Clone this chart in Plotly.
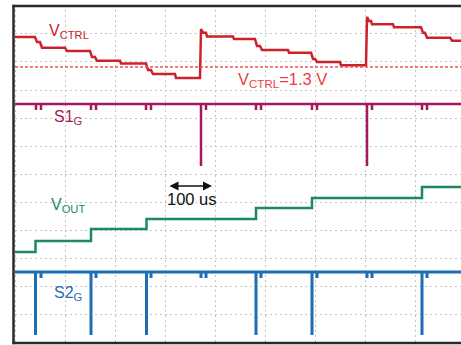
import plotly.graph_objects as go

# Time axis in screen divisions, amplitude in screen divisions
vctrl_t = [0, 0.40, 0.44, 0.50, 0.54, 1.00, 1.04, 1.50, 1.54, 1.60, 1.64, 2.10, 2.12, 2.62, 2.66, 2.72,
           2.76, 3.20, 3.22, 3.70, 3.72, 3.76, 3.82, 3.84, 4.36, 4.38, 4.80, 4.84, 4.90, 4.94, 5.46,
           5.48, 5.92, 5.96, 6.00, 6.04, 6.50, 6.52, 7.02, 7.04, 7.08, 7.12, 7.14, 7.56, 7.58, 8.12,
           8.16, 8.20, 8.24, 8.70, 8.74, 8.92]
vctrl_v = [10.89, 10.89, 10.71, 10.71, 10.51, 10.51, 10.39, 10.39, 10.18, 10.18, 10.04, 10.04, 9.95,
           9.95, 9.71, 9.71, 9.57, 9.57, 9.43, 9.43, 11.18, 11.04, 11.04, 10.91, 10.91, 10.82, 10.82,
           10.57, 10.57, 10.43, 10.43, 10.33, 10.33, 10.11, 10.11, 10.00, 10.00, 9.88, 9.88, 11.61,
           11.46, 11.46, 11.35, 11.35, 11.24, 11.24, 11.04, 11.04, 10.87, 10.87, 10.76, 10.76]
vctrl_ref = 9.82

s1_base = 8.5
s1_t = [0.42, 0.52, 1.52, 1.62, 2.62, 2.72, 3.72, 3.82, 4.82, 4.92, 5.94, 6.04, 7.04, 7.14, 8.14, 8.24]
s1_low = [8.29, 8.29, 8.29, 8.29, 8.29, 8.29, 6.29, 8.29, 8.29, 8.29, 8.29, 8.29, 6.29, 8.29, 8.29, 8.29]

vout_t = [0, 0.41, 1.52, 2.63, 4.82, 5.94, 8.14, 8.92]
vout_v = [3.21, 3.61, 4.04, 4.39, 4.79, 5.14, 5.54, 5.54]

s2_base = 2.5
s2_t = [0.41, 0.52, 1.52, 1.62, 2.63, 2.72, 3.72, 3.82, 4.82, 4.92, 5.94, 6.04, 7.04, 7.14, 8.14, 8.24]
s2_low = [0.25, 2.29, 0.25, 2.29, 0.25, 2.29, 2.29, 2.29, 0.25, 2.29, 0.25, 2.29, 2.29, 2.29, 0.25, 2.29]

x_end = 8.92
x_min = -0.30
y_min, y_max = -0.107, 12.214
frame_left, frame_top, frame_bottom = -0.03, 12.0, -0.036


def pulse_train(times, lows, base):
    xs, ys = [0], [base]
    for t, lo in zip(times, lows):
        xs += [t, t, t]
        ys += [base, lo, base]
    xs.append(x_end)
    ys.append(base)
    return xs, ys


RED = "#cc2229"
MAG = "#a3195b"
GRN = "#1c8a5c"
BLU = "#1f6db3"
FRAME = "#2a2a2a"

fig = go.Figure()
# white masks outside the frame (hide gridlines there)
for (xa, xb, ya, yb) in [(x_min, frame_left, y_min, y_max), (x_min, x_end, frame_top, y_max),
                         (x_min, x_end, y_min, frame_bottom)]:
    fig.add_shape(type="rect", x0=xa, x1=xb, y0=ya, y1=yb, xref="x", yref="y",
                  fillcolor="white", line=dict(width=0), layer="between")

fig.add_shape(type="line", x0=0, x1=x_end, y0=vctrl_ref, y1=vctrl_ref, xref="x", yref="y",
              line=dict(color="#f05050", width=1.5, dash="3px,2px"))
fig.add_trace(go.Scatter(x=vctrl_t, y=vctrl_v, mode="lines", line=dict(color=RED, width=2.5)))
x1, y1 = pulse_train(s1_t, s1_low, s1_base)
fig.add_trace(go.Scatter(x=x1, y=y1, mode="lines", line=dict(color=MAG, width=2.5)))
fig.add_trace(go.Scatter(x=vout_t, y=vout_v, mode="lines", line=dict(color=GRN, width=2.5, shape="hv")))
x2, y2 = pulse_train(s2_t, s2_low, s2_base)
fig.add_trace(go.Scatter(x=x2, y=y2, mode="lines", line=dict(color=BLU, width=3)))

# frame (left, top, bottom) - right side runs off the page
fig.add_shape(type="line", xref="x", yref="y", x0=frame_left, x1=frame_left,
              y0=frame_bottom - 0.04, y1=frame_top + 0.04, line=dict(color=FRAME, width=2.5), layer="above")
fig.add_shape(type="line", xref="x", yref="y", x0=frame_left - 0.02, x1=x_end, y0=frame_top, y1=frame_top,
              line=dict(color=FRAME, width=2.5), layer="above")
fig.add_shape(type="line", xref="x", yref="y", x0=frame_left - 0.02, x1=x_end, y0=frame_bottom,
              y1=frame_bottom, line=dict(color=FRAME, width=2.5), layer="above")

FONT = "Liberation Sans, Arial, sans-serif"


def label(x, y, text, color, size=16):
    fig.add_annotation(x=x, y=y, xref="x", yref="y", text=text, showarrow=False,
                       xanchor="left", yanchor="middle", font=dict(family=FONT, size=size, color=color))


label(0.64, 11.1, "V<sub>CTRL</sub>", RED)
label(4.42, 9.36, "V<sub>CTRL</sub>=1.3 V", "#f03c3c", 16.5)
label(0.74, 8.03, "S1<sub>G</sub>", MAG)
label(0.68, 4.88, "V<sub>OUT</sub>", GRN)
label(0.74, 1.74, "S2<sub>G</sub>", BLU)
fig.add_annotation(x=3.53, y=5.09, xref="x", yref="y", text="100 us", showarrow=False,
                   xanchor="center", yanchor="middle", font=dict(family=FONT, size=16.5, color="#111"))
fig.add_annotation(x=3.94, y=5.57, ax=3.06, ay=5.57, xref="x", yref="y", axref="x", ayref="y",
                   text="", showarrow=True, arrowhead=2, arrowside="end+start", arrowsize=1.2,
                   arrowwidth=1.5, arrowcolor="#111")

fig.update_layout(
    width=461, height=345, margin=dict(l=0, r=0, t=0, b=0),
    paper_bgcolor="white", plot_bgcolor="white", showlegend=False,
    xaxis=dict(range=[x_min, x_end], tick0=0, dtick=1, showticklabels=False, ticks="",
               showgrid=True, gridcolor="#c4c4c4", gridwidth=1, griddash="1.5px,3.5px",
               zeroline=False, showline=False),
    yaxis=dict(range=[y_min, y_max], tick0=0, dtick=1, showticklabels=False, ticks="",
               showgrid=True, gridcolor="#c4c4c4", gridwidth=1, griddash="1.5px,3.5px",
               zeroline=False, showline=False),
)
fig.write_html("out.html", config={"displayModeBar": False},
               post_script="document.body.style.margin='0';document.body.style.overflow='hidden';")
